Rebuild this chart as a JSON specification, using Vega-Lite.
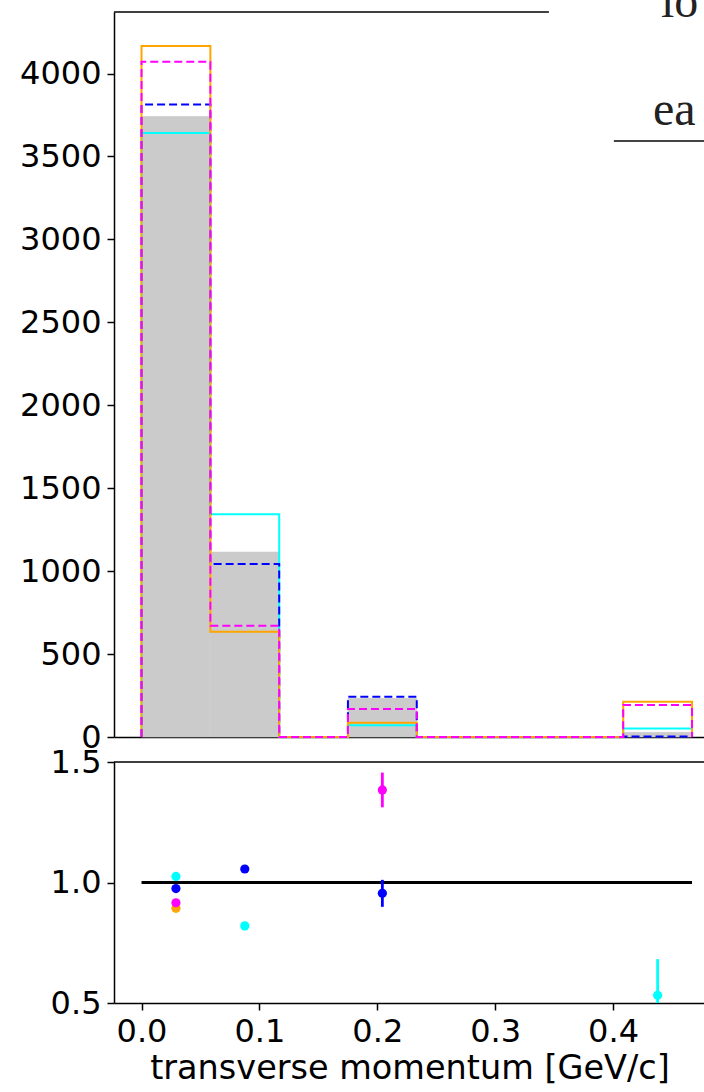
{
  "$schema": "https://vega.github.io/schema/vega-lite/v6.json",
  "autosize": {"type": "pad"},
  "padding": {"left": 19, "top": -22, "right": 0, "bottom": 4},
  "bounds": "flush",
  "spacing": 25,
  "config": {
    "view": {"stroke": null},
    "font": "DejaVu Sans",
    "axis": {
      "grid": false,
      "domainColor": "black",
      "domainWidth": 1.5,
      "tickColor": "black",
      "tickWidth": 1.5,
      "tickSize": 7,
      "labelFont": "DejaVu Sans",
      "labelFontSize": 32,
      "labelColor": "black",
      "labelPadding": 6,
      "titleFont": "DejaVu Sans",
      "titleFontSize": 33.5,
      "titleColor": "black",
      "titleFontWeight": "normal"
    }
  },
  "datasets": {
    "hist": [
      {"bin": -1, "x0": 0, "x1": 0, "gray": 0, "cyan": 0, "blue": 0, "orange": 0, "magenta": 0},
      {"bin": 0, "x0": 0, "x1": 0.0584, "gray": 3741, "cyan": 3641, "blue": 3813, "orange": 4166, "magenta": 4071},
      {"bin": 1, "x0": 0.0584, "x1": 0.1168, "gray": 1115, "cyan": 1343, "blue": 1043, "orange": 635, "magenta": 671},
      {"bin": 2, "x0": 0.1168, "x1": 0.1751, "gray": 0, "cyan": 0, "blue": 0, "orange": 0, "magenta": 0},
      {"bin": 3, "x0": 0.1751, "x1": 0.2335, "gray": 233, "cyan": 71, "blue": 243, "orange": 86, "magenta": 169},
      {"bin": 4, "x0": 0.2335, "x1": 0.2919, "gray": 0, "cyan": 0, "blue": 0, "orange": 0, "magenta": 0},
      {"bin": 5, "x0": 0.2919, "x1": 0.3503, "gray": 0, "cyan": 0, "blue": 0, "orange": 0, "magenta": 0},
      {"bin": 6, "x0": 0.3503, "x1": 0.4086, "gray": 0, "cyan": 0, "blue": 0, "orange": 0, "magenta": 0},
      {"bin": 7, "x0": 0.4086, "x1": 0.467, "gray": 28, "cyan": 52, "blue": 3, "orange": 213, "magenta": 193},
      {"bin": 8, "x0": 0.467, "x1": 0.467, "gray": 0, "cyan": 0, "blue": 0, "orange": 0, "magenta": 0}
    ],
    "ratio": [
      {"series": "orange", "x": 0.0292, "ratio": 0.893, "lo": 0.883, "hi": 0.903},
      {"series": "cyan", "x": 0.0292, "ratio": 1.025, "lo": 1.015, "hi": 1.035},
      {"series": "blue", "x": 0.0292, "ratio": 0.975, "lo": 0.965, "hi": 0.985},
      {"series": "magenta", "x": 0.0292, "ratio": 0.916, "lo": 0.906, "hi": 0.926},
      {"series": "orange", "x": 0.0876, "ratio": 1.76, "lo": 1.7, "hi": 1.82},
      {"series": "cyan", "x": 0.0876, "ratio": 0.82, "lo": 0.81, "hi": 0.83},
      {"series": "blue", "x": 0.0876, "ratio": 1.056, "lo": 1.045, "hi": 1.067},
      {"series": "magenta", "x": 0.0876, "ratio": 1.66, "lo": 1.6, "hi": 1.72},
      {"series": "orange", "x": 0.2043, "ratio": 2.7, "lo": 2.5, "hi": 2.9},
      {"series": "cyan", "x": 0.2043, "ratio": 3.3, "lo": 3.0, "hi": 3.6},
      {"series": "blue", "x": 0.2043, "ratio": 0.955, "lo": 0.899, "hi": 1.011},
      {"series": "magenta", "x": 0.2043, "ratio": 1.384, "lo": 1.312, "hi": 1.456},
      {"series": "cyan", "x": 0.4378, "ratio": 0.532, "lo": 0.382, "hi": 0.682},
      {"series": "orange", "x": 0.4378, "ratio": 0.13, "lo": 0.1, "hi": 0.16},
      {"series": "magenta", "x": 0.4378, "ratio": 0.145, "lo": 0.11, "hi": 0.18}
    ]
  },
  "vconcat": [
    {
      "width": 591,
      "height": 725,
      "data": {"name": "hist"},
      "layer": [
        {
          "mark": {"type": "rect", "color": "#cbcbcb", "stroke": "#cbcbcb", "strokeWidth": 0.6},
          "encoding": {
            "x": {"field": "x0", "type": "quantitative", "scale": {"domain": [-0.02335, 0.478], "nice": false, "zero": false}, "axis": {"labels": false, "ticks": false, "title": null, "domain": true}},
            "x2": {"field": "x1"},
            "y": {"field": "gray", "type": "quantitative", "scale": {"domain": [0, 4371], "nice": false}, "axis": {"values": [0, 500, 1000, 1500, 2000, 2500, 3000, 3500, 4000], "format": "d", "title": null}},
            "y2": {"datum": 0}
          }
        },
        {
          "transform": [{"fold": ["x0", "x1"], "as": ["edge", "xpos"]}],
          "mark": {"type": "line", "color": "#00ffff", "strokeWidth": 2},
          "encoding": {
            "x": {"field": "xpos", "type": "quantitative"},
            "y": {"field": "cyan", "type": "quantitative"},
            "order": [{"field": "bin", "type": "quantitative"}, {"field": "edge", "type": "nominal"}]
          }
        },
        {
          "transform": [{"fold": ["x0", "x1"], "as": ["edge", "xpos"]}],
          "mark": {"type": "line", "color": "#0000ff", "strokeWidth": 2, "strokeDash": [8, 4]},
          "encoding": {
            "x": {"field": "xpos", "type": "quantitative"},
            "y": {"field": "blue", "type": "quantitative"},
            "order": [{"field": "bin", "type": "quantitative"}, {"field": "edge", "type": "nominal"}]
          }
        },
        {
          "transform": [{"fold": ["x0", "x1"], "as": ["edge", "xpos"]}],
          "mark": {"type": "line", "color": "#ffa500", "strokeWidth": 2},
          "encoding": {
            "x": {"field": "xpos", "type": "quantitative"},
            "y": {"field": "orange", "type": "quantitative"},
            "order": [{"field": "bin", "type": "quantitative"}, {"field": "edge", "type": "nominal"}]
          }
        },
        {
          "transform": [{"fold": ["x0", "x1"], "as": ["edge", "xpos"]}],
          "mark": {"type": "line", "color": "#ff00ff", "strokeWidth": 2, "strokeDash": [8, 4]},
          "encoding": {
            "x": {"field": "xpos", "type": "quantitative"},
            "y": {"field": "magenta", "type": "quantitative"},
            "order": [{"field": "bin", "type": "quantitative"}, {"field": "edge", "type": "nominal"}]
          }
        },
        {
          "data": {"values": [{}]},
          "mark": {"type": "rule", "color": "black", "strokeWidth": 1.5},
          "encoding": {"x": {"datum": -0.02335}, "x2": {"datum": 0.3456}, "y": {"datum": 4371}}
        },
        {
          "data": {"values": [{}]},
          "mark": {"type": "rule", "color": "#444444", "strokeWidth": 2, "clip": true},
          "encoding": {"x": {"datum": 0.4007}, "x2": {"datum": 0.478}, "y": {"datum": 3593}}
        },
        {
          "data": {"values": [{"t": "ea"}]},
          "mark": {"type": "text", "font": "Liberation Serif", "fontSize": 48, "align": "left", "baseline": "alphabetic", "color": "#222222", "clip": true},
          "encoding": {"x": {"datum": 0.4338}, "y": {"datum": 3690}, "text": {"field": "t"}}
        },
        {
          "data": {"values": [{"t": "lo"}]},
          "mark": {"type": "text", "font": "Liberation Serif", "fontSize": 48, "align": "left", "baseline": "alphabetic", "color": "#222222"},
          "encoding": {"x": {"datum": 0.4406}, "y": {"datum": 4341}, "text": {"field": "t"}}
        }
      ]
    },
    {
      "width": 591,
      "height": 241,
      "data": {"name": "ratio"},
      "layer": [
        {
          "data": {"values": [{}]},
          "mark": {"type": "rule", "color": "black", "strokeWidth": 3},
          "encoding": {
            "x": {"datum": 0, "type": "quantitative", "scale": {"domain": [-0.02335, 0.478], "nice": false, "zero": false}, "axis": {"values": [0, 0.1, 0.2, 0.3, 0.4], "format": ".1f", "title": "transverse momentum [GeV/c]", "titlePadding": 5}},
            "x2": {"datum": 0.467},
            "y": {"datum": 1, "type": "quantitative", "scale": {"domain": [0.5, 1.5], "nice": false, "zero": false}, "axis": {"values": [0.5, 1.0, 1.5], "format": ".1f", "title": null}}
          }
        },
        {
          "mark": {"type": "rule", "strokeWidth": 2.8, "clip": true},
          "encoding": {
            "x": {"field": "x", "type": "quantitative"},
            "y": {"field": "lo", "type": "quantitative"},
            "y2": {"field": "hi"},
            "color": {"field": "series", "type": "nominal", "scale": {"domain": ["orange", "cyan", "blue", "magenta"], "range": ["#ffa500", "#00ffff", "#0000ff", "#ff00ff"]}, "legend": null}
          }
        },
        {
          "mark": {"type": "circle", "size": 85, "opacity": 1, "clip": true},
          "encoding": {
            "x": {"field": "x", "type": "quantitative"},
            "y": {"field": "ratio", "type": "quantitative"},
            "color": {"field": "series", "type": "nominal", "legend": null}
          }
        },
        {
          "data": {"values": [{}]},
          "mark": {"type": "rule", "color": "black", "strokeWidth": 1.5},
          "encoding": {"x": {"datum": -0.02335}, "x2": {"datum": 0.478}, "y": {"datum": 1.5}}
        }
      ]
    }
  ]
}
